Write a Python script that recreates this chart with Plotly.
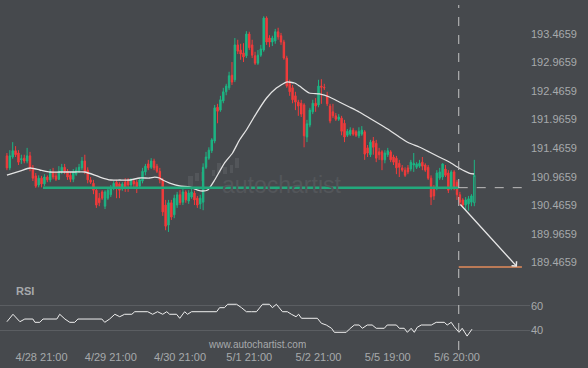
import plotly.graph_objects as go

# ---------------- data ----------------
opens = [191.33, 191.12, 191.31, 191.42, 191.38, 191.26, 191.29, 191.24, 191.33, 191.12,
         190.98, 190.82, 190.94, 190.84, 190.96, 190.91, 191.05, 190.98, 190.92, 191.05,
         191.13, 191.06, 190.99, 190.92, 191.01, 191.06, 191.12, 191.24, 191.08, 190.91,
         190.85, 190.73, 190.59, 190.70, 190.45, 190.59, 190.65, 190.77, 190.87, 190.84,
         190.75, 190.87, 190.91, 190.82, 190.89, 190.87, 190.80, 190.89, 191.05, 191.19,
         191.13, 191.24, 191.15, 191.06, 190.91, 190.47, 190.12, 190.51, 190.30, 190.47,
         190.65, 190.52, 190.70, 190.54, 190.61, 190.68, 190.59, 190.49, 190.52, 191.13,
         191.29, 191.42, 191.59, 192.18, 192.13, 192.29, 192.45, 192.52, 192.74, 192.66,
         193.27, 193.18, 193.13, 193.08, 193.46, 193.27, 193.08, 192.95, 193.09, 193.18,
         193.74, 193.39, 193.32, 193.34, 193.50, 193.43, 193.32, 193.04, 192.60, 192.52,
         192.38, 192.27, 192.25, 192.22, 191.66, 191.87, 192.10, 192.25, 192.22, 192.55,
         192.53, 192.39, 192.20, 192.10, 192.03, 191.97, 191.99, 191.90, 191.69, 191.71,
         191.78, 191.75, 191.68, 191.71, 191.75, 191.47, 191.35, 191.59, 191.55, 191.40,
         191.40, 191.26, 191.35, 191.40, 191.31, 191.29, 191.20, 191.12, 191.08, 191.12,
         191.10, 191.17, 191.13, 191.15, 191.22, 191.17, 191.13, 190.94, 190.77, 190.77,
         190.94, 190.96, 191.10, 191.03, 190.77, 191.05, 190.87, 190.65, 190.56, 190.47,
         190.49, 190.52]
highs = [191.38, 191.43, 191.57, 191.50, 191.43, 191.35, 191.35, 191.47, 191.40, 191.17,
         191.03, 190.99, 190.98, 191.01, 190.99, 191.10, 191.12, 191.05, 191.15, 191.19,
         191.19, 191.10, 191.05, 191.10, 191.13, 191.19, 191.31, 191.35, 191.13, 190.96,
         190.91, 190.77, 190.68, 190.73, 190.73, 190.77, 190.82, 190.89, 190.91, 190.87,
         190.87, 190.94, 190.94, 190.94, 190.92, 190.91, 190.94, 191.12, 191.19, 191.26,
         191.29, 191.28, 191.19, 191.12, 190.94, 190.56, 190.56, 190.56, 190.65, 190.70,
         190.73, 190.77, 190.73, 190.73, 190.77, 190.72, 190.63, 190.65, 191.20, 191.40,
         191.48, 191.64, 192.22, 192.24, 192.38, 192.52, 192.59, 192.80, 192.97, 193.39,
         193.36, 193.29, 193.30, 193.51, 193.50, 193.36, 193.15, 193.18, 193.27, 193.77,
         193.77, 193.44, 193.43, 193.55, 193.57, 193.48, 193.36, 193.08, 192.66, 192.57,
         192.45, 192.31, 192.31, 192.25, 191.96, 192.17, 192.31, 192.34, 192.66, 192.67,
         192.59, 192.45, 192.24, 192.24, 192.08, 192.06, 192.03, 191.96, 191.80, 191.83,
         191.82, 191.78, 191.83, 191.85, 191.78, 191.52, 191.61, 191.66, 191.61, 191.47,
         191.43, 191.43, 191.47, 191.43, 191.35, 191.33, 191.26, 191.17, 191.13, 191.17,
         191.26, 191.38, 191.22, 191.26, 191.31, 191.20, 191.17, 190.99, 190.82, 191.08,
         191.12, 191.20, 191.17, 191.08, 191.08, 191.08, 190.91, 190.70, 190.59, 190.61,
         190.63, 190.66]
lows = [191.08, 191.08, 191.28, 191.31, 191.17, 191.19, 191.20, 191.20, 191.06, 190.89,
        190.77, 190.78, 190.78, 190.80, 190.87, 190.87, 190.92, 190.89, 190.91, 191.01,
        191.01, 190.91, 190.87, 190.87, 190.98, 191.03, 191.08, 191.01, 190.85, 190.84,
        190.66, 190.42, 190.45, 190.56, 190.40, 190.56, 190.61, 190.73, 190.59, 190.59,
        190.72, 190.70, 190.70, 190.77, 190.77, 190.68, 190.77, 190.85, 190.99, 191.08,
        191.10, 191.08, 191.03, 190.85, 190.28, 190.03, 190.00, 190.21, 190.24, 190.42,
        190.47, 190.47, 190.51, 190.49, 190.58, 190.47, 190.42, 190.40, 190.38, 191.10,
        191.26, 191.38, 191.55, 191.90, 192.10, 192.25, 192.39, 192.48, 192.57, 192.62,
        193.11, 193.01, 192.97, 193.04, 193.18, 193.04, 192.92, 192.92, 193.06, 193.15,
        193.27, 193.23, 193.25, 193.29, 193.36, 193.27, 193.01, 192.52, 192.38, 192.25,
        192.13, 192.03, 192.01, 191.48, 191.57, 191.83, 192.06, 192.10, 192.18, 192.24,
        192.48, 192.20, 191.90, 191.99, 191.94, 191.94, 191.69, 191.57, 191.66, 191.68,
        191.68, 191.66, 191.64, 191.68, 191.26, 191.31, 191.31, 191.35, 191.22, 191.26,
        191.08, 191.20, 191.31, 191.22, 191.17, 191.01, 190.96, 191.05, 190.96, 191.01,
        191.06, 191.05, 191.10, 191.12, 191.08, 191.05, 190.91, 190.47, 190.56, 190.73,
        190.91, 190.91, 190.96, 190.68, 190.73, 190.73, 190.56, 190.47, 190.42, 190.38,
        190.37, 190.45]
closes = [191.12, 191.33, 191.42, 191.35, 191.22, 191.28, 191.24, 191.33, 191.12, 190.94,
          190.80, 190.94, 190.84, 190.96, 190.91, 191.05, 190.96, 190.92, 191.06, 191.13,
          191.06, 190.96, 190.92, 191.05, 191.08, 191.13, 191.24, 191.06, 190.91, 190.87,
          190.73, 190.47, 190.51, 190.59, 190.70, 190.73, 190.78, 190.85, 190.78, 190.73,
          190.84, 190.77, 190.82, 190.91, 190.84, 190.77, 190.91, 191.06, 191.15, 191.12,
          191.24, 191.12, 191.06, 190.91, 190.35, 190.10, 190.51, 190.26, 190.59, 190.65,
          190.51, 190.70, 190.56, 190.68, 190.70, 190.56, 190.47, 190.59, 191.13, 191.31,
          191.43, 191.61, 192.17, 192.11, 192.31, 192.45, 192.55, 192.73, 192.62, 193.27,
          193.16, 193.11, 193.06, 193.46, 193.22, 193.09, 192.95, 193.09, 193.20, 193.74,
          193.32, 193.32, 193.39, 193.50, 193.41, 193.32, 193.04, 192.55, 192.45, 192.31,
          192.27, 192.20, 192.06, 191.68, 191.89, 192.13, 192.25, 192.20, 192.55, 192.53,
          192.52, 192.24, 191.94, 192.03, 191.97, 192.01, 191.76, 191.66, 191.76, 191.78,
          191.71, 191.69, 191.76, 191.78, 191.36, 191.38, 191.57, 191.48, 191.29, 191.35,
          191.26, 191.38, 191.42, 191.26, 191.22, 191.12, 191.13, 191.08, 190.99, 191.05,
          191.22, 191.20, 191.19, 191.20, 191.15, 191.08, 190.94, 190.61, 190.63, 191.03,
          191.05, 191.19, 190.99, 190.73, 191.05, 190.78, 190.65, 190.52, 190.47, 190.56,
          190.58, 190.63]

# current (forming) candle
last_open = [190.51]
last_high = [191.26]
last_low = [190.45]
last_close = [190.99]

# moving average
ma_idx = [0, 4.5, 8, 11.4, 14.9, 18.3, 23.5, 27, 30.4, 32.2,
          36, 39.1, 42.6, 46, 49.5, 51.2, 52.9, 54, 56.4, 59.9,
          63.3, 66.1, 67.8, 69.6, 72, 75.4, 78.2, 80.6, 83, 86.5,
          90, 93.4, 96.9, 99.7, 101.4, 104.8, 108.3, 111.8, 115.2, 118.7,
          122.1, 125.6, 129.1, 132.5, 136, 139.4, 142.9, 146.4, 149.8, 153.3,
          156.7, 160.2, 161.9]
ma_val = [190.995, 191.065, 191.118, 191.083, 191.048, 191.048, 191.048, 191.048, 190.995, 190.96,
          190.908, 190.908, 190.908, 190.943, 190.943, 190.96, 190.943, 190.908, 190.855, 190.803,
          190.786, 190.733, 190.716, 190.733, 190.908, 191.205, 191.38, 191.607, 191.782, 192.079,
          192.342, 192.516, 192.621, 192.604, 192.551, 192.429, 192.412, 192.359, 192.272, 192.184,
          192.097, 191.992, 191.887, 191.782, 191.66, 191.555, 191.485, 191.398, 191.31, 191.223,
          191.118, 191.03, 191.013]

# RSI
rsi_idx = [0, 2.1, 4.5, 6.2, 9, 9.7, 11.4, 12.5, 17.3, 18.3, 20.1, 21.8, 23.5, 24.6,
           32.9, 33.9, 35.6, 37.4, 39.1, 40.8, 43.3, 44.3, 48.8, 50.5, 52.2, 54, 55.4,
           56.4, 58.8, 59.9, 61.6, 62.6, 64, 72.7, 73.7, 75.4, 76.5, 79.6, 81.3, 83,
           84.8, 86.5, 88.6, 91, 92, 93.4, 95.5, 97.2, 98.6, 100.2, 101.1, 102.1, 107.6,
           109, 110.7, 112.5, 113.5, 117.6, 118.7, 120.4, 122.1, 123.2, 124.9, 126.6, 128,
           130.8, 131.8, 135, 136, 137.7, 138.8, 140.1, 141.2, 142.2, 143.6, 145.3, 147.1,
           148.8, 151.6, 152.6, 154, 155, 156.7, 157.8, 159.5, 161.2]
rsi_val = [47.1, 53.2, 47.1, 49.3, 49.3, 46.6, 46.6, 49.3, 49.3, 53.2, 49.3, 46.6, 46.6, 49.3,
           49.3, 46.6, 49.3, 53.2, 51.2, 53.2, 53.2, 55.3, 55.3, 53.2, 55.3, 53.2, 55.3,
           53.2, 53.2, 49.9, 55.3, 53.2, 55.3, 55.3, 58.6, 58.6, 61.4, 61.4, 58.6, 55.3,
           55.3, 55.3, 61.4, 61.4, 58.6, 61.4, 55.3, 55.3, 53.2, 51.2, 53.2, 49.9, 49.9,
           45.8, 44.4, 41.7, 38.4, 38.4, 41.0, 44.4, 44.4, 41.7, 44.4, 44.4, 41.7,
           41.7, 44.4, 44.4, 41.7, 41.7, 38.4, 41.7, 38.4, 42.5, 44.4, 44.4, 44.4,
           46.6, 46.6, 44.4, 46.6, 43.1, 38.4, 41.7, 35.3, 41.0]

# x-axis ticks
tick_idx = [12, 36, 60, 84, 108, 132, 156]
tick_labels = ["4/28 21:00", "4/29 21:00", "4/30 21:00", "5/1 21:00",
               "5/2 21:00", "5/5 19:00", "5/6 20:00"]

price_ticks = [189.4659, 189.9659, 190.4659, 190.9659, 191.4659,
               191.9659, 192.4659, 192.9659, 193.4659, 193.9659]
rsi_ticks = [40, 60]

# pattern / forecast
support_level = 190.774
support_start = 12.5
signal_idx = 156.6
arrow_start = (156.7, 190.506)
arrow_end = (176.8, 189.392)
target_level = 189.389
target_end = 178.5

# ---------------- style ----------------
BG = "#46494d"
GREEN = "#1db584"
RED = "#f23b3b"
TXT = "#a7a9ac"
WM = "#53565a"
FONT = "Liberation Sans, Arial, sans-serif"
XMAX = 181.3
PW, PH = 530.0, 345.0  # plot area in pixels


def px(x):
    return x / PW


def py(y):
    return (PH - y) / PH


fig = go.Figure()
fig.add_trace(go.Candlestick(
    x=list(range(len(opens))), open=opens, high=highs, low=lows, close=closes,
    increasing=dict(line=dict(color=GREEN, width=1), fillcolor=GREEN),
    decreasing=dict(line=dict(color=RED, width=1), fillcolor=RED),
    whiskerwidth=0, xaxis="x", yaxis="y", hoverinfo="skip"))
fig.add_trace(go.Candlestick(
    x=[len(opens)], open=last_open, high=last_high, low=last_low, close=last_close,
    increasing=dict(line=dict(color=GREEN, width=1), fillcolor="rgba(0,0,0,0)"),
    decreasing=dict(line=dict(color=RED, width=1), fillcolor="rgba(0,0,0,0)"),
    whiskerwidth=0, xaxis="x", yaxis="y", hoverinfo="skip"))
fig.add_trace(go.Scatter(
    x=ma_idx, y=ma_val, mode="lines", xaxis="x", yaxis="y",
    line=dict(color="#e4e4e4", width=1.3, shape="spline", smoothing=0.5), hoverinfo="skip"))
fig.add_trace(go.Scatter(
    x=rsi_idx, y=rsi_val, mode="lines", xaxis="x", yaxis="y2",
    line=dict(color="#efefef", width=1), hoverinfo="skip"))

split = 55 / PH

# faint watermark logo bars (decoration)
logo = [(188, 193, 176, 188), (195, 199, 173, 181), (201, 204, 172, 181),
        (212, 215, 170, 176), (217, 221, 163, 173), (223, 227, 167, 174),
        (230, 233, 165, 173), (235, 239, 158, 168)]
shapes = [dict(type="rect", xref="paper", yref="paper", layer="below",
               x0=px(a), x1=px(b), y0=py(d), y1=py(c),
               fillcolor=WM, line=dict(width=0)) for a, b, c, d in logo]

shapes += [
    dict(type="line", xref="x", yref="y", x0=support_start, x1=signal_idx,
         y0=support_level, y1=support_level, line=dict(color="#22a97c", width=2.5)),
    dict(type="line", xref="x", yref="y", x0=signal_idx, x1=XMAX,
         y0=support_level, y1=support_level, line=dict(color="#bdbdbd", width=1, dash="dash")),
    dict(type="line", xref="x", yref="paper", x0=signal_idx, x1=signal_idx,
         y0=py(350), y1=py(5), line=dict(color="#c4c4c4", width=1, dash="dash")),
    dict(type="line", xref="x", yref="y", x0=signal_idx, x1=target_end,
         y0=target_level, y1=target_level, line=dict(color="#e38b5b", width=1.5)),
]

annotations = [
    dict(x=arrow_end[0], y=arrow_end[1], ax=arrow_start[0], ay=arrow_start[1],
         xref="x", yref="y", axref="x", ayref="y", text="", showarrow=True,
         arrowhead=4, arrowsize=1, arrowwidth=1.3, arrowcolor="#e8e8e8"),
    dict(x=px(14), y=py(291), xref="paper", yref="paper", text="<b>RSI</b>",
         showarrow=False, xanchor="left", yanchor="middle",
         font=dict(family=FONT, size=11, color=TXT)),
    dict(x=px(257), y=py(344), xref="paper", yref="paper", text="www.autochartist.com",
         showarrow=False, xanchor="center", yanchor="middle", height=10,
         font=dict(family=FONT, size=10, color=TXT)),
    dict(x=px(282), y=py(185), xref="paper", yref="paper", text="autochartist",
         showarrow=False, xanchor="center", yanchor="middle",
         font=dict(family=FONT, size=23, color=WM)),
]

fig.update_layout(
    width=588, height=368,
    margin=dict(l=0, r=58, t=0, b=23),
    paper_bgcolor=BG, plot_bgcolor=BG,
    showlegend=False,
    font=dict(family=FONT, size=11, color=TXT),
    xaxis=dict(domain=[0, 1], anchor="y2", range=[-2.4, XMAX],
               tickvals=tick_idx, ticktext=tick_labels, showgrid=False,
               zeroline=False, showline=False, ticks="", ticklabelstandoff=4,
               rangeslider=dict(visible=False),
               tickfont=dict(family=FONT, size=11, color=TXT)),
    yaxis=dict(domain=[split, 1], anchor="x", side="right",
               range=[188.985, 194.055], tickvals=price_ticks,
               ticktext=["%.4f" % v for v in price_ticks],
               showgrid=False, zeroline=False, showline=False, ticks="",
               tickfont=dict(family=FONT, size=11, color=TXT)),
    yaxis2=dict(domain=[0, split], anchor="x", side="right",
                range=[28.0, 73.1], tickvals=rsi_ticks,
                showgrid=True, gridcolor="#5b5e62", gridwidth=1,
                zeroline=False, showline=False, ticks="",
                tickfont=dict(family=FONT, size=11, color=TXT)),
    shapes=shapes,
    annotations=annotations,
)

fig.write_html("out.html", config={"displayModeBar": False},
               post_script="document.body.style.margin='0px';document.body.style.background='%s';" % BG)
